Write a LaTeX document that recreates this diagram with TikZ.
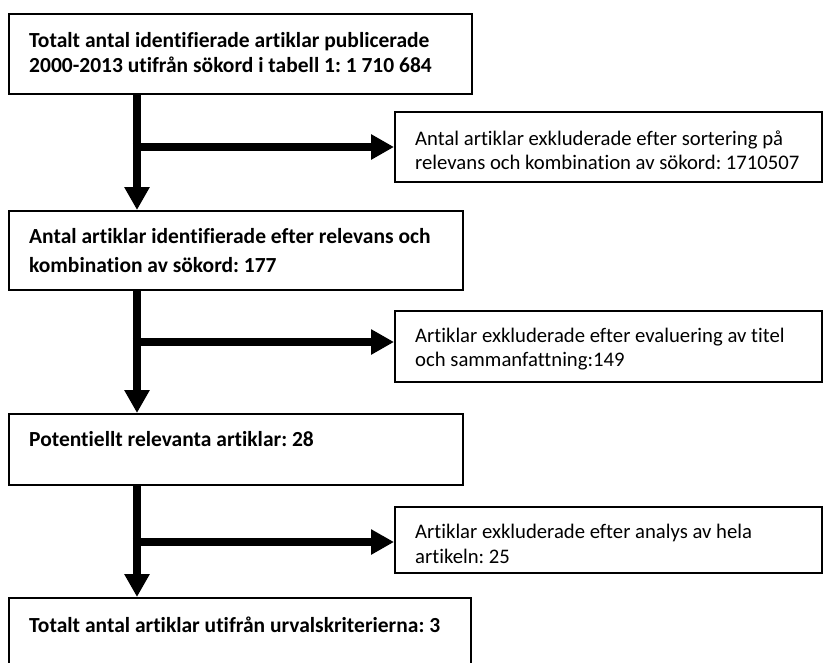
\documentclass[tikz,border=0pt]{standalone}
\usepackage{fontspec}
\setmainfont[Ligatures={NoCommon}]{Carlito}
\usetikzlibrary{arrows.meta}
\tikzset{
  box/.style={draw=black, line width=2pt, inner sep=0pt, fill=none},
  bt/.style={anchor=base west, inner sep=0pt, font=\fontsize{21.5}{25}\selectfont\bfseries},
  rt/.style={anchor=base west, inner sep=0pt, font=\fontsize{20.7}{25}\selectfont},
  arr/.style={line width=8.5pt, -{Triangle[length=23pt,width=24pt]}},
}
\frenchspacing
\begin{document}
\begin{tikzpicture}[x=1pt,y=-1pt]
\useasboundingbox (0,0) rectangle (824,662);
\clip (0,0) rectangle (824,662);
% left boxes
\node[box, minimum width=463pt, minimum height=80pt] (b1) at (240.5,54) {};
\node[box, minimum width=454pt, minimum height=79pt] (b3) at (236,250.5) {};
\node[box, minimum width=454pt, minimum height=71pt] (b5) at (236,449.5) {};
\node[box, minimum width=462pt, minimum height=92pt] (b7) at (240,644) {};
% right boxes
\node[box, minimum width=427pt, minimum height=70pt] (b2) at (608.5,147) {};
\node[box, minimum width=427pt, minimum height=71pt] (b4) at (608.5,346.5) {};
\node[box, minimum width=427pt, minimum height=66pt] (b6) at (608.5,540) {};
% texts
\node[bt] (t1a) at (29,47) {Totalt antal identifierade artiklar publicerade};
\node[bt] (t1b) at (29,72) {2000-2013 utifrån sökord i tabell 1: 1 710 684};
\node[bt] (t3a) at (29,243) {Antal artiklar identifierade efter relevans och};
\node[bt] (t3b) at (29,272) {kombination av sökord: 177};
\node[bt] (t5) at (29,446) {Potentiellt relevanta artiklar: 28};
\node[bt] (t7) at (29,632) {Totalt antal artiklar utifrån urvalskriterierna: 3};
\node[rt] (t2a) at (415,145) {Antal artiklar exkluderade efter sortering på};
\node[rt] (t2b) at (415,169) {relevans och kombination av sökord: 1710507};
\node[rt] (t4a) at (415,342) {Artiklar exkluderade efter evaluering av titel};
\node[rt] (t4b) at (415,366) {och sammanfattning:149};
\node[rt] (t6a) at (415,538) {Artiklar exkluderade efter analys av hela};
\node[rt] (t6b) at (415,563) {artikeln: 25};
% junctions
\coordinate (j1) at (137,147);
\coordinate (j2) at (137,342);
\coordinate (j3) at (137,542);
% connectors
\draw[arr] (b1.south -| j1) -- (b3.north -| j1);
\draw[arr] ([xshift=-4.25pt]j1) -- (b2.west |- j1);
\draw[arr] (b3.south -| j2) -- (b5.north -| j2);
\draw[arr] ([xshift=-4.25pt]j2) -- (b4.west |- j2);
\draw[arr] (b5.south -| j3) -- (b7.north -| j3);
\draw[arr] ([xshift=-4.25pt]j3) -- (b6.west |- j3);
\end{tikzpicture}
\end{document}
